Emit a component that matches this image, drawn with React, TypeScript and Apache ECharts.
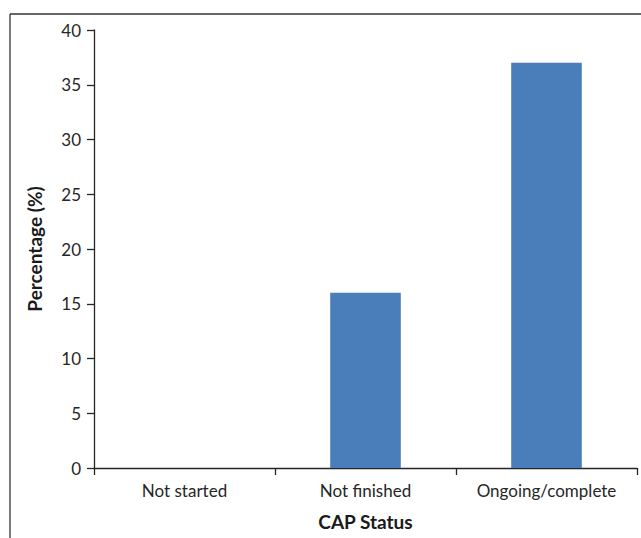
import React, { useEffect, useRef } from "react";
import * as echarts from "echarts";

const categories = ["Not started", "Not finished", "Ongoing/complete"];
const values = [0, 16, 37];
const yTicks = { min: 0, max: 40, interval: 5 };

export default function App() {
  const ref = useRef<HTMLDivElement>(null);
  useEffect(() => {
    const chart = echarts.init(ref.current!, null, { renderer: "svg" });
    const font = "Lato, 'Open Sans', sans-serif";
    chart.setOption({
      animation: false,
      backgroundColor: "#ffffff",
      grid: { left: 94, top: 30, right: 4, bottom: 70 },
      xAxis: {
        type: "category",
        data: categories,
        boundaryGap: true,
        name: "CAP Status",
        nameLocation: "middle",
        nameGap: 44,
        nameTextStyle: { fontFamily: font, fontSize: 19, fontWeight: "bold", color: "#1a1a1a" },
        axisLine: { lineStyle: { color: "#262626", width: 1.3 } },
        axisTick: { show: true, length: 7, interval: 0, lineStyle: { color: "#262626", width: 1.3 } },
        axisLabel: { interval: 0, hideOverlap: false, margin: 14, fontFamily: font, fontSize: 17, color: "#262626" },
      },
      yAxis: {
        type: "value",
        min: yTicks.min,
        max: yTicks.max,
        interval: yTicks.interval,
        name: "Percentage (%)",
        nameLocation: "middle",
        nameGap: 50,
        nameTextStyle: { fontFamily: font, fontSize: 19, fontWeight: "bold", color: "#1a1a1a" },
        axisLine: { show: true, lineStyle: { color: "#262626", width: 1.3 } },
        axisTick: { show: true, length: 7, lineStyle: { color: "#262626", width: 1.3 } },
        axisLabel: { margin: 13, fontFamily: font, fontSize: 17, color: "#262626" },
        splitLine: { show: false },
      },
      series: [
        {
          type: "bar",
          data: values,
          barWidth: "39%",
          itemStyle: { color: "#4a7ebb" },
        },
      ],
      graphic: [
        { type: "line", shape: { x1: 10, y1: 14, x2: 641, y2: 14 }, style: { stroke: "#333333", lineWidth: 1.3 } },
        { type: "line", shape: { x1: 10, y1: 14, x2: 10, y2: 538 }, style: { stroke: "#333333", lineWidth: 1.3 } },
      ],
    });
    return () => chart.dispose();
  }, []);
  return (
    <div
      ref={ref}
      style={{ position: "fixed", left: 0, top: 0, width: 641, height: 538 }}
    />
  );
}
